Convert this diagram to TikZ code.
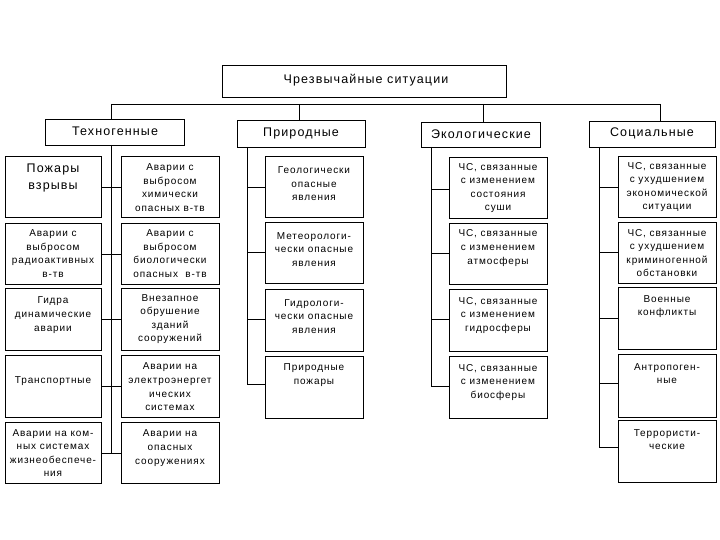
\documentclass[tikz,border=0pt]{standalone}
\usepackage{fontspec}
\setmainfont{Liberation Sans}[LetterSpace=9]
\begin{document}
\begin{tikzpicture}[x=1pt,y=-1pt,
  box/.style={draw, line width=1pt, inner sep=0pt},
  txt/.style={font=\fontsize{10}{13.6}\selectfont, align=center, inner sep=0pt},
  bigtxt/.style={font=\fontsize{12.5}{16.5}\selectfont, align=center, inner sep=0pt},
  cat/.style={font=\fontsize{12.5}{14}\selectfont, inner sep=0pt},
  ln/.style={line width=0.9pt}]
\useasboundingbox (0,0) rectangle (720,540);
\newcommand\bx[5]{\node[box, anchor=north west, minimum width={#4pt-#2pt}, minimum height={#5pt-#3pt}] (#1) at (#2,#3) {};}

% top
\bx{top}{222}{65}{506}{97}
\node[txt, font=\fontsize{12.5}{14}\selectfont] (toptxt) at (366,80) {Чрезвычайные ситуации};

% categories
\bx{tech}{45}{119}{184}{145}
\bx{prir}{237}{120}{365}{147}
\bx{eco}{421}{122}{540}{147}
\bx{soc}{589}{121}{715}{147}
\node[cat] (techt) at (115,131.5) {Техногенные};
\node[cat] (prirt) at (301,133.5) {Природные};
\node[cat] (ecot) at (481,134.5) {Экологические};
\node[cat] (soct) at (652,133.5) {Социальные};

% bus
\coordinate (b1) at (111,104);
\coordinate (b2) at (299,104);
\coordinate (b3) at (483,104);
\coordinate (b4) at (660,104);
\draw[ln] (b1) -- (b4);
\draw[ln] (b1) -- (b1 |- tech.north);
\draw[ln] (b2) -- (b2 |- prir.north);
\draw[ln] (b3) -- (b3 |- eco.north);
\draw[ln] (b4) -- (b4 |- soc.north);

% Техногенные
\bx{l1}{5}{156}{101}{217}
\bx{l2}{5}{223}{101}{284}
\bx{l3}{5}{288}{101}{350}
\bx{l4}{5}{355}{101}{417}
\bx{l5}{5}{422}{101}{483}
\bx{r1}{121}{156}{219}{217}
\bx{r2}{121}{223}{219}{284}
\bx{r3}{121}{288}{219}{350}
\bx{r4}{121}{355}{219}{417}
\bx{r5}{121}{422}{219}{483}
\coordinate (tv) at (111,145);
\draw[ln] (tv) -- (tv |- l5.east);
\foreach \i in {1,...,5}{\draw[ln] (l\i.east) -- (r\i.west);}
\node[bigtxt] (l1t) at (53,178) {Пожары\\взрывы};
\node[txt] (l2t) at (53,253.5) {Аварии с\\выбросом\\радиоактивных\\в-тв};
\node[txt] (l3t) at (53,315) {Гидра\\динамические\\аварии};
\node[txt] (l4t) at (53,381) {Транспортные};
\node[txt] (l5t) at (53,453) {Аварии на ком-\\ных системах\\жизнеобеспече-\\ния};
\node[txt] (r1t) at (170,187.5) {Аварии с\\выбросом\\химически\\опасных в-тв};
\node[txt] (r2t) at (170,253.5) {Аварии с\\выбросом\\биологически\\опасных\ \ в-тв};
\node[txt] (r3t) at (170,319) {Внезапное\\обрушение\\зданий\\сооружений};
\node[txt] (r4t) at (170,387) {Аварии на\\электроэнергет\\ических\\системах};
\node[txt] (r5t) at (170,448) {Аварии на\\опасных\\сооружениях};

% Природные
\bx{p1}{265}{156}{363}{217}
\bx{p2}{265}{222}{363}{283}
\bx{p3}{265}{289}{363}{351}
\bx{p4}{265}{356}{363}{418}
\coordinate (pv) at (247,147);
\draw[ln] (pv) -- (pv |- 0,384);
\draw[ln] (pv |- 0,187) -- (p1.west |- 0,187);
\draw[ln] (pv |- 0,252) -- (p2.west |- 0,252);
\draw[ln] (pv |- 0,319) -- (p3.west |- 0,319);
\draw[ln] (pv |- 0,384) -- (p4.west |- 0,384);
\node[txt] (p1t) at (314,184) {Геологически\\опасные\\явления};
\node[txt] (p2t) at (314,249.5) {Метеорологи-\\чески опасные\\явления};
\node[txt] (p3t) at (314,316.5) {Гидрологи-\\чески опасные\\явления};
\node[txt] (p4t) at (314,375) {Природные\\пожары};

% Экологические
\bx{e1}{449}{157}{547}{218}
\bx{e2}{449}{223}{547}{284}
\bx{e3}{449}{289}{547}{351}
\bx{e4}{449}{356}{547}{418}
\coordinate (ev) at (431,147);
\draw[ln] (ev) -- (ev |- 0,386);
\draw[ln] (ev |- 0,189) -- (e1.west |- 0,189);
\draw[ln] (ev |- 0,253) -- (e2.west |- 0,253);
\draw[ln] (ev |- 0,319) -- (e3.west |- 0,319);
\draw[ln] (ev |- 0,386) -- (e4.west |- 0,386);
\node[txt] (e1t) at (498,188) {ЧС, связанные\\с изменением\\состояния\\суши};
\node[txt] (e2t) at (498,248) {ЧС, связанные\\с изменением\\атмосферы};
\node[txt] (e3t) at (498,315.5) {ЧС, связанные\\с изменением\\гидросферы};
\node[txt] (e4t) at (498,382.5) {ЧС, связанные\\с изменением\\биосферы};

% Социальные
\bx{s1}{618}{156}{716}{217}
\bx{s2}{618}{222}{716}{283}
\bx{s3}{618}{287}{716}{349}
\bx{s4}{618}{354}{716}{417}
\bx{s5}{618}{420}{716}{482}
\coordinate (sv) at (599,147);
\draw[ln] (sv) -- (sv |- 0,447);
\draw[ln] (sv |- 0,187) -- (s1.west |- 0,187);
\draw[ln] (sv |- 0,252) -- (s2.west |- 0,252);
\draw[ln] (sv |- 0,318) -- (s3.west |- 0,318);
\draw[ln] (sv |- 0,383) -- (s4.west |- 0,383);
\draw[ln] (sv |- 0,447) -- (s5.west |- 0,447);
\node[txt] (s1t) at (667,187) {ЧС, связанные\\с ухудшением\\экономической\\ситуации};
\node[txt] (s2t) at (667,253) {ЧС, связанные\\с ухудшением\\криминогенной\\обстановки};
\node[txt] (s3t) at (667,306.5) {Военные\\конфликты};
\node[txt] (s4t) at (667,373.5) {Антропоген-\\ные};
\node[txt] (s5t) at (667,439.5) {Террористи-\\ческие};
\end{tikzpicture}
\end{document}
